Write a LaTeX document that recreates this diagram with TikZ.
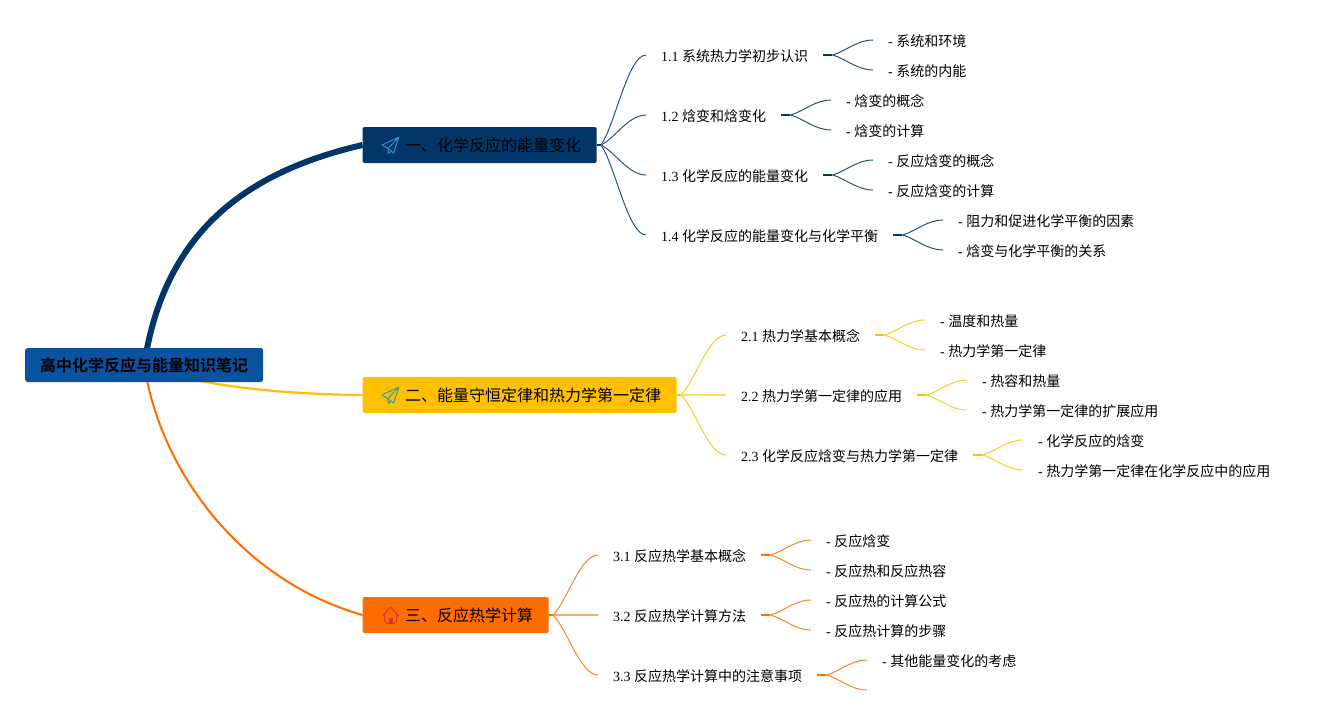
\documentclass[tikz,border=0pt]{standalone}
\usepackage{fontspec}
\setmainfont{Liberation Serif}
\newfontfamily\cjk{Noto Sans CJK SC}
\newfontfamily\cjkb{Noto Sans CJK SC Bold}
\usetikzlibrary{calc,backgrounds}
\definecolor{cnavy}{HTML}{023668}
\definecolor{croot}{HTML}{0B52A0}
\definecolor{cyel}{HTML}{FFC000}
\definecolor{corg}{HTML}{FF6D00}
\definecolor{cplaneA}{HTML}{2F8FD0}
\definecolor{cplaneB}{HTML}{3A9E90}
\definecolor{chouse}{HTML}{E0323C}
\tikzset{
  rootbox/.style={fill=croot,rounded corners=2.5pt,minimum height=34pt,minimum width=238pt,inner sep=0pt,anchor=west,text=black,font=\fontsize{16pt}{18pt}\selectfont\cjkb},
  topicbox/.style={rounded corners=1.5pt,minimum height=36pt,inner xsep=15.5pt,inner ysep=0pt,anchor=west,text=black,font=\fontsize{16pt}{18pt}\selectfont\cjk},
  itembox/.style={inner xsep=15pt,inner ysep=0pt,text height=12pt,text depth=0pt,anchor=west,text=black,font=\fontsize{14pt}{16pt}\selectfont},
  stubline/.style={line width=1.6pt},
  curveline/.style={line width=1pt},
  iconline/.style={line width=1pt,line join=round}
}
\newcommand{\itm}[5]{\node[itembox] (#1) at (#2,#3) {#4 {\cjk #5}};}
\newcommand{\conn}[4]{%
  \begin{pgfonlayer}{background}
  \draw[stubline,#1] (#2) -- ++(#4,0) coordinate (tmpc);
  \draw[curveline,#1!85] let \p1=(tmpc), \p2=(#3) in (\p1) .. controls ({\x1+0.3*(\x2-\x1)},{\y1+0.2*(\y2-\y1)}) and ({\x1+0.6*(\x2-\x1)},{\y2}) .. (\p2);
  \end{pgfonlayer}}
\newcommand{\straightconn}[3]{%
  \begin{pgfonlayer}{background}
  \draw[line width=1.6pt,#1!60] (#2) -- (#3);
  \end{pgfonlayer}}
\begin{document}
\begin{tikzpicture}[x=1pt,y=-1pt]
\useasboundingbox (0,0) rectangle (1331,715);
\node[rootbox] (root) at (25,365) {高中化学反应与能量知识笔记};
\node[topicbox,fill=cnavy] (t1) at (362.5,145) {\hspace{27pt}一、化学反应的能量变化};
\node[topicbox,fill=cyel] (t2) at (362.5,395) {\hspace{27pt}二、能量守恒定律和热力学第一定律};
\node[topicbox,fill=corg] (t3) at (362.5,615) {\hspace{27pt}三、反应热学计算};
% icons
\draw[iconline,cplaneA] (382,145) -- (399,137) -- (393.5,153) -- (388,148.5) -- cycle (388,148.5) -- (399,137) (388,148.5) -- (388.5,153.5) -- (391.5,151);
\draw[iconline,cplaneB] (382,395) -- (399,387) -- (393.5,403) -- (388,398.5) -- cycle (388,398.5) -- (399,387) (388,398.5) -- (388.5,403.5) -- (391.5,401);
\draw[iconline,chouse] (382.5,616) -- (390.5,607) -- (398.5,616) (384.5,614) -- (384.5,621) -- (387,623.5) -- (394,623.5) -- (396.5,621) -- (396.5,614);
\fill[chouse] (388.5,623.5) rectangle (392.5,618);
% level 2 and leaves
\itm{a1}{646}{55}{1.1}{系统热力学初步认识}
\itm{a11}{873}{40}{-}{系统和环境}
\itm{a12}{873}{70}{-}{系统的内能}
\itm{a2}{646}{115}{1.2}{焓变和焓变化}
\itm{a21}{831}{100}{-}{焓变的概念}
\itm{a22}{831}{130}{-}{焓变的计算}
\itm{a3}{646}{175}{1.3}{化学反应的能量变化}
\itm{a31}{873}{160}{-}{反应焓变的概念}
\itm{a32}{873}{190}{-}{反应焓变的计算}
\itm{a4}{646}{235}{1.4}{化学反应的能量变化与化学平衡}
\itm{a41}{943}{220}{-}{阻力和促进化学平衡的因素}
\itm{a42}{943}{250}{-}{焓变与化学平衡的关系}
\itm{b1}{726}{335}{2.1}{热力学基本概念}
\itm{b11}{925}{320}{-}{温度和热量}
\itm{b12}{925}{350}{-}{热力学第一定律}
\itm{b2}{726}{395}{2.2}{热力学第一定律的应用}
\itm{b21}{967}{380}{-}{热容和热量}
\itm{b22}{967}{410}{-}{热力学第一定律的扩展应用}
\itm{b3}{726}{455}{2.3}{化学反应焓变与热力学第一定律}
\itm{b31}{1023}{440}{-}{化学反应的焓变}
\itm{b32}{1023}{470}{-}{热力学第一定律在化学反应中的应用}
\itm{c1}{598}{555}{3.1}{反应热学基本概念}
\itm{c11}{811}{540}{-}{反应焓变}
\itm{c12}{811}{570}{-}{反应热和反应热容}
\itm{c2}{598}{615}{3.2}{反应热学计算方法}
\itm{c21}{811}{600}{-}{反应热的计算公式}
\itm{c22}{811}{630}{-}{反应热计算的步骤}
\itm{c3}{598}{675}{3.3}{反应热学计算中的注意事项}
\itm{c31}{867}{660}{-}{其他能量变化的考虑}
\coordinate (c32) at (867,690);
% main connectors
\begin{pgfonlayer}{background}
\draw[cnavy,line width=6pt] (root.center) .. controls (165,225) and (255,170) .. (t1.west);
\draw[cyel,line width=2.2pt] (root.center) .. controls (190,384) and (270,394) .. (t2.west);
\draw[corg,line width=2pt] (root.center) .. controls (160,470) and (240,580) .. (t3.west);
\end{pgfonlayer}
% topic 1
\conn{cnavy}{t1.east}{a1.west}{4}
\conn{cnavy}{t1.east}{a2.west}{4}
\conn{cnavy}{t1.east}{a3.west}{4}
\conn{cnavy}{t1.east}{a4.west}{4}
\conn{cnavy}{a1.east}{a11.west}{9}
\conn{cnavy}{a1.east}{a12.west}{9}
\conn{cnavy}{a2.east}{a21.west}{9}
\conn{cnavy}{a2.east}{a22.west}{9}
\conn{cnavy}{a3.east}{a31.west}{9}
\conn{cnavy}{a3.east}{a32.west}{9}
\conn{cnavy}{a4.east}{a41.west}{9}
\conn{cnavy}{a4.east}{a42.west}{9}
% topic 2
\conn{cyel}{t2.east}{b1.west}{4}
\straightconn{cyel}{t2.east}{b2.west}
\conn{cyel}{t2.east}{b3.west}{4}
\conn{cyel}{b1.east}{b11.west}{9}
\conn{cyel}{b1.east}{b12.west}{9}
\conn{cyel}{b2.east}{b21.west}{9}
\conn{cyel}{b2.east}{b22.west}{9}
\conn{cyel}{b3.east}{b31.west}{9}
\conn{cyel}{b3.east}{b32.west}{9}
% topic 3
\conn{corg}{t3.east}{c1.west}{4}
\straightconn{corg}{t3.east}{c2.west}
\conn{corg}{t3.east}{c3.west}{4}
\conn{corg}{c1.east}{c11.west}{9}
\conn{corg}{c1.east}{c12.west}{9}
\conn{corg}{c2.east}{c21.west}{9}
\conn{corg}{c2.east}{c22.west}{9}
\conn{corg}{c3.east}{c31.west}{9}
\conn{corg}{c3.east}{c32}{9}
\end{tikzpicture}
\end{document}
